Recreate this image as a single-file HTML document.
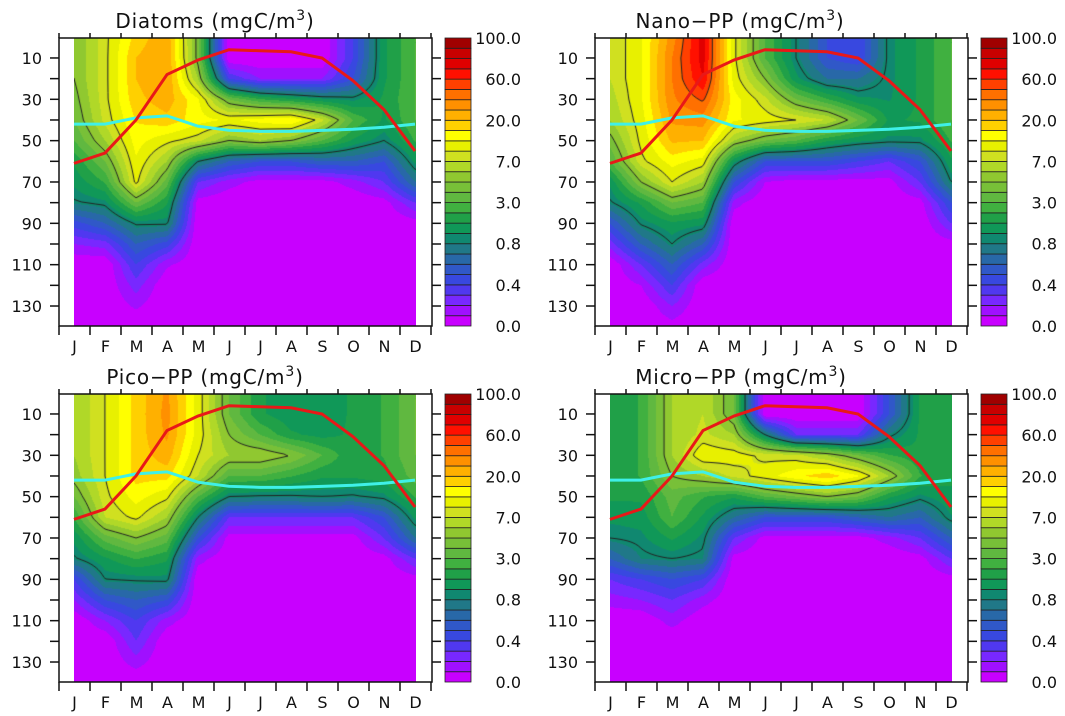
<!DOCTYPE html>
<html><head><meta charset="utf-8">
<style>
html,body{margin:0;padding:0;background:#fff;}
#wrap{position:relative;width:1065px;height:716px;overflow:hidden;font-family:"DejaVu Sans","Liberation Sans",sans-serif;}
canvas{position:absolute;}
svg{position:absolute;left:0;top:0;font-family:"DejaVu Sans","Liberation Sans",sans-serif;}
</style></head>
<body>
<div id="wrap">
<svg id="svg" width="1065" height="716"></svg>
</div>
<script>
const monthLabels=['J','F','M','A','M','J','J','A','S','O','N','D'];
const depths=[0,10,20,30,40,50,60,70,80,90,100,110,120,130,140];
const depthTicks=[10,30,50,70,90,110,130];
const levelValues=[0,0.4,0.8,3,7,20,60,100];
const levelLabels=['0.0','0.4','0.8','3.0','7.0','20.0','60.0','100.0'];
const contourLevels=[1,5,10,50];
const redLine=[61,56,40,18,11,6,6.5,7,10,21,35,55];
const cyanLine=[42,42,39,38,43,45,45.5,45.5,45,44.5,43.5,42];
const diatoms=[
[5,5,5,4.5,4,3,2,1.5,0.9,0.45,0.2,0,0,0,0],
[9,9,9,9,8,6,4,2.5,1.2,0.6,0.25,0,0,0,0],
[18,20,20,19,17,15,13,11,4,1.1,0.6,0.4,0.25,0.12,0],
[28,30,30,26,19,11,6,3.5,2,1.1,0.45,0.12,0,0,0],
[4.5,4.5,6,14,15,8,1,0.3,0.05,0,0,0,0,0,0],
[0,0,0.4,4,13,5,0.6,0.15,0,0,0,0,0,0,0],
[0,0,0.2,2.5,15,6,0.5,0.05,0,0,0,0,0,0,0],
[0,0,0.2,2,17,5,0.5,0.05,0,0,0,0,0,0,0],
[0,0,0.2,1.5,8,3,0.6,0.05,0,0,0,0,0,0,0],
[0.4,0.4,0.5,1.2,3,1.8,0.6,0.15,0,0,0,0,0,0,0],
[1.8,1.8,1.8,2,1.8,1,0.5,0.3,0.05,0,0,0,0,0,0],
[3,3,3,3,3,2.5,1.5,0.7,0.3,0.05,0,0,0,0,0]];
const nano=[
[7,7,7,6.5,6,4.5,3,1.5,0.9,0.5,0.25,0,0,0,0],
[13,13,13,13,12,11,9,5,2,1.1,0.6,0.3,0.1,0,0],
[35,40,40,38,32,22,15,10,4,1.8,1,0.6,0.4,0.2,0.05],
[75,75,70,52,35,20,12,6,3,1.5,0.6,0.25,0,0,0],
[11,11,12,15,14,6,1.5,0.5,0.15,0,0,0,0,0,0],
[3,3,5,8,12,4,0.5,0.1,0,0,0,0,0,0,0],
[1,1,1.5,4,10,3,0.5,0.05,0,0,0,0,0,0,0],
[0.5,0.5,0.7,2.5,7,2,0.5,0.05,0,0,0,0,0,0,0],
[0.4,0.4,0.7,1.5,4,1.5,0.4,0.05,0,0,0,0,0,0,0],
[1.2,1.2,1.2,1.3,1.8,1.2,0.3,0.05,0,0,0,0,0,0,0],
[2,2,2,2,2,1.2,0.5,0.3,0.05,0,0,0,0,0,0],
[3,3,3,3,3,2.5,1.8,1,0.5,0.3,0.05,0,0,0,0]];
const pico=[
[6,6,6,6,5.5,4,2.5,1.5,0.9,0.4,0.2,0,0,0,0],
[10,10,10,10,10,9,7,3.5,1.8,1,0.5,0.2,0,0,0],
[18,18,18,18,18,15,11,5,2.5,1.1,0.6,0.4,0.3,0.15,0],
[32,34,32,26,18,11,6,3.5,2,1.2,0.5,0.15,0,0,0],
[12,12,12,10,7,3,1,0.5,0.15,0,0,0,0,0,0],
[4,4,5,6,3,1,0.3,0.05,0,0,0,0,0,0,0],
[2,2,3,6,3,0.9,0.3,0.05,0,0,0,0,0,0,0],
[1.5,1.5,2,5,2.5,0.9,0.3,0.05,0,0,0,0,0,0,0],
[1.5,1.5,1.7,3,2,1,0.3,0.05,0,0,0,0,0,0,0],
[2,2,2,2,2,0.9,0.3,0.05,0,0,0,0,0,0,0],
[2.5,2.5,2.5,2.5,2.2,1.2,0.5,0.3,0.05,0,0,0,0,0,0],
[4,4,4,4,3.5,2.5,1.5,0.7,0.3,0.05,0,0,0,0,0]];
const micro=[
[2,2,2,2,2,2,1.5,1,0.6,0.3,0.15,0,0,0,0],
[2.5,2.5,2.5,2.5,2.5,2,1.6,1.2,0.8,0.4,0.2,0,0,0,0],
[6,6,6,6,5,3.5,3,2,1,0.5,0.3,0.15,0,0,0],
[7,7,8,13,6,2.5,1.8,1.2,0.8,0.4,0.15,0,0,0,0],
[4,4,6,12,8,2,0.7,0.3,0.05,0,0,0,0,0,0],
[0,0,1,9,12,3,0.5,0.05,0,0,0,0,0,0,0],
[0,0,0.3,8,16,4,0.5,0.05,0,0,0,0,0,0,0],
[0,0,0.3,6,19,5,0.5,0.05,0,0,0,0,0,0,0],
[0,0,0.3,4,14,4,0.6,0.05,0,0,0,0,0,0,0],
[0.5,0.5,0.8,2.5,6,2,0.7,0.15,0,0,0,0,0,0,0],
[2,2,2,2,2.5,1.2,0.6,0.3,0.05,0,0,0,0,0,0],
[2,2,2,2,2,1.8,1.3,0.6,0.3,0.05,0,0,0,0,0]];

const bandColors=['#c800ff','#a010ff','#7828ff','#5038f0','#3848e0','#3058c8','#2868a8','#207888',
'#108870','#109858','#20a048','#40b040','#60b840','#78c038','#90c830','#b0d828',
'#d0e020','#e8f000','#ffff00','#ffd000','#ffb000','#ff9000','#ff7000','#ff4000',
'#ff1000','#e00000','#c80000','#a00000'];
const rgb=bandColors.map(c=>[parseInt(c.substr(1,2),16),parseInt(c.substr(3,2),16),parseInt(c.substr(5,2),16)]);

function toF(v){
  if(v<=0) return 0;
  for(let k=1;k<levelValues.length;k++){
    if(v<=levelValues[k]) return (k-1+(v-levelValues[k-1])/(levelValues[k]-levelValues[k-1]))*4;
  }
  return 28;
}
const X0=74, MSTEP=31, Y0=37.3, DPX=2.067;
function xScale(m){return X0+m*MSTEP;}
function yScale(d){return Y0+d*DPX;}

const panels=[
 {name:'diatoms',title:'Diatoms (mgC/m',data:diatoms,dx:0,dy:0,tx:215},
 {name:'nano-pp',title:'Nano\u2212PP (mgC/m',data:nano,dx:536,dy:0,tx:204},
 {name:'pico-pp',title:'Pico\u2212PP (mgC/m',data:pico,dx:0,dy:356,tx:205},
 {name:'micro-pp',title:'Micro\u2212PP (mgC/m',data:micro,dx:536,dy:356,tx:205}];

const NS='http://www.w3.org/2000/svg';
const svg=document.getElementById('svg');
const wrap=document.getElementById('wrap');
function mk(tag,attrs,parent){const e=document.createElementNS(NS,tag);for(const k in attrs)e.setAttribute(k,attrs[k]);(parent||svg).appendChild(e);return e;}

function sampleF(F,m,d){
  m=Math.max(0,Math.min(11,m)); let di=Math.max(0,Math.min(14,d/10));
  const m0=Math.min(10,Math.floor(m)), d0=Math.min(13,Math.floor(di));
  const fm=m-m0, fd=di-d0;
  const a=F[m0][d0],b=F[m0+1][d0],c=F[m0][d0+1],e=F[m0+1][d0+1];
  return (a*(1-fm)+b*fm)*(1-fd)+(c*(1-fm)+e*fm)*fd;
}

panels.forEach(p=>{
  const F=p.data.map(col=>col.map(toF));
  const g=mk('g',{});
  
  
  const cw=342, ch=288, cx=74+p.dx, cy=38+p.dy;
  const cv=document.createElement('canvas');
  cv.width=cw; cv.height=ch;
  cv.style.left=cx+'px'; cv.style.top=cy+'px';
  
  
  wrap.insertBefore(cv,svg);
  const ctx=cv.getContext('2d');
  const img=ctx.createImageData(cw,ch);
  for(let j=0;j<ch;j++){
    const d=(j+38+0.5-Y0)/DPX;
    for(let i=0;i<cw;i++){
      const m=(i+0.5)/MSTEP;
      let f=sampleF(F,m,d);
      let b=Math.max(0,Math.min(27,Math.floor(f)));
      const o=(j*cw+i)*4;
      img.data[o]=rgb[b][0];img.data[o+1]=rgb[b][1];img.data[o+2]=rgb[b][2];img.data[o+3]=255;
    }
  }
  ctx.putImageData(img,0,0);
  const S=2, nx=Math.floor(cw/S)+1, ny=Math.floor(ch/S)+1;
  const G=[];
  for(let j=0;j<ny;j++){G[j]=[];for(let i=0;i<nx;i++){G[j][i]=sampleF(F,(i*S)/MSTEP,(j*S+38-Y0)/DPX);}}
  ctx.strokeStyle='#222';ctx.lineWidth=1;
  contourLevels.forEach(lv=>{
    const L=toF(lv);
    ctx.beginPath();
    for(let j=0;j<ny-1;j++)for(let i=0;i<nx-1;i++){
      const v=[G[j][i],G[j][i+1],G[j+1][i+1],G[j+1][i]];
      const pts=[];
      const corners=[[i,j],[i+1,j],[i+1,j+1],[i,j+1]];
      for(let k=0;k<4;k++){
        const a=v[k],b=v[(k+1)%4];
        if((a<L)!==(b<L)){
          const t=(L-a)/(b-a);
          const c1=corners[k],c2=corners[(k+1)%4];
          pts.push([(c1[0]+(c2[0]-c1[0])*t)*S,(c1[1]+(c2[1]-c1[1])*t)*S]);
        }
      }
      for(let k=0;k+1<pts.length;k+=2){ctx.moveTo(pts[k][0],pts[k][1]);ctx.lineTo(pts[k+1][0],pts[k+1][1]);}
    }
    ctx.stroke();
  });
  const lineG=mk('g',{transform:`translate(${p.dx},${p.dy})`},g);
  const cyan=mk('polyline',{points:cyanLine.map((d,i)=>xScale(i)+','+yScale(d)).join(' '),fill:'none',stroke:'#3ff0e8','stroke-width':3},lineG);
  
  
  const red=mk('polyline',{points:redLine.map((d,i)=>xScale(i)+','+yScale(d)).join(' '),fill:'none',stroke:'#e81818','stroke-width':3},lineG);
  
  
  const fr=mk('rect',{x:59+p.dx,y:38+p.dy,width:373,height:288,fill:'none',stroke:'#111','stroke-width':1.5},g);
  
  
  for(let k=0;k<=12;k++){
    const x=59+31*k+p.dx;
    mk('line',{x1:x,x2:x,y1:326+p.dy,y2:335+p.dy,stroke:'#111','stroke-width':1.5},g);
    mk('line',{x1:x,x2:x,y1:33+p.dy,y2:38+p.dy,stroke:'#111','stroke-width':1.5},g);
  }
  monthLabels.forEach((lb,i)=>{
    const t=mk('text',{x:xScale(i)+0.5+p.dx,y:352+p.dy,'text-anchor':'middle','font-size':16,fill:'#111'},g);
    t.textContent=lb;
    
    
  });
  for(let d=10;d<=130;d+=10){
    const y=yScale(d)+p.dy;
    mk('line',{x1:50+p.dx,x2:59+p.dx,y1:y,y2:y,stroke:'#111','stroke-width':1.5},g);
    mk('line',{x1:432+p.dx,x2:441+p.dx,y1:y,y2:y,stroke:'#111','stroke-width':1.5},g);
  }
  depthTicks.forEach(d=>{
    const t=mk('text',{x:42+p.dx,y:yScale(d)+6+p.dy,'text-anchor':'end','font-size':16,fill:'#111'},g);
    t.textContent=d;
    
    
  });
  const tt=mk('text',{x:p.tx+p.dx,y:28+p.dy,'text-anchor':'middle','font-size':20,fill:'#111','letter-spacing':'0.8'},g);
  tt.textContent=p.title;
  const sup=mk('tspan',{'font-size':14,dy:-8},tt);sup.textContent='3';
  const cl=mk('tspan',{dy:8},tt);cl.textContent=')';
  
  
  const cb=mk('g',{},g);
  
  
  const bh=288/28;
  bandColors.forEach((c,k)=>{
    const r=mk('rect',{x:445+p.dx,y:38+p.dy+(27-k)*bh,width:26,height:bh,fill:c,stroke:'#222','stroke-width':0.8},cb);
    
    
  });
  levelLabels.forEach((lb,k)=>{
    const t=mk('text',{x:521+p.dx,y:38+p.dy+288-k*4*bh+6,'text-anchor':'end','font-size':16,fill:'#111'},cb);
    t.textContent=lb;
    
    
  });
});
</script>
</body></html>
